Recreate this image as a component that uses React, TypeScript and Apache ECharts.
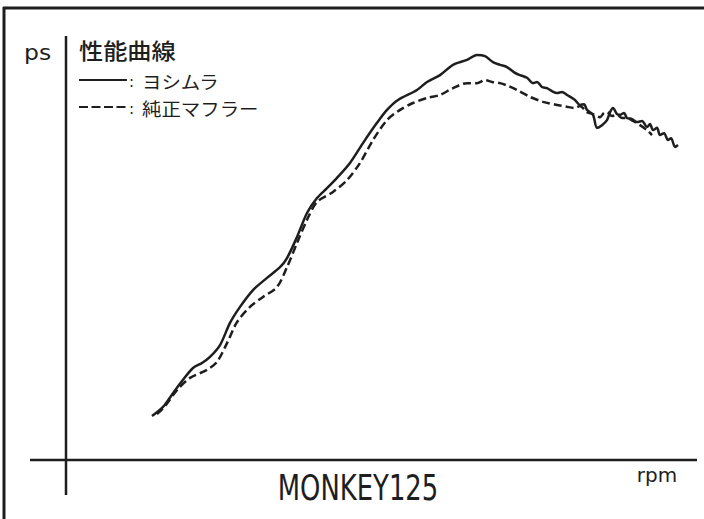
import React, { useEffect, useRef } from "react";
import * as echarts from "echarts";

// rpm (x) and ps (y) readings for each curve
const yoshimuraRpm = [2030, 2197, 2348, 2500, 2652, 2788, 2909, 3061, 3212, 3364, 3561, 3773, 3970, 4076, 4227, 4379, 4530, 4682, 4833, 5030, 5227, 5439, 5591, 5758, 6045, 6197, 6394, 6591, 6803, 6955, 7076, 7197, 7303, 7409, 7530, 7606, 7712, 7803, 7864, 7939, 8015, 8091, 8167, 8242, 8318, 8439, 8515, 8576, 8621, 8712, 8773, 8848, 8924, 8970, 9015, 9076, 9121, 9182, 9227, 9303, 9379, 9455, 9530, 9576, 9621, 9682, 9727, 9788, 9848, 9894, 9955, 10000];
const yoshimuraPs = [1.15, 1.39, 1.75, 2.10, 2.41, 2.54, 2.70, 3.01, 3.59, 4.01, 4.45, 4.77, 5.05, 5.29, 5.84, 6.47, 6.86, 7.12, 7.39, 7.78, 8.30, 8.83, 9.17, 9.43, 9.69, 9.90, 10.08, 10.35, 10.48, 10.61, 10.58, 10.42, 10.35, 10.29, 10.14, 10.08, 10.01, 9.87, 9.90, 9.77, 9.74, 9.66, 9.61, 9.64, 9.56, 9.43, 9.30, 9.32, 9.17, 9.04, 8.70, 8.77, 8.90, 9.11, 9.22, 9.06, 9.04, 9.09, 8.96, 8.93, 8.85, 8.88, 8.72, 8.80, 8.64, 8.70, 8.51, 8.56, 8.38, 8.43, 8.20, 8.25];

const stockRpm = [2106, 2227, 2409, 2606, 2864, 3015, 3167, 3318, 3515, 3712, 3924, 4076, 4227, 4379, 4530, 4773, 4985, 5182, 5379, 5591, 5788, 5985, 6197, 6394, 6591, 6803, 6955, 7076, 7182, 7303, 7424, 7561, 7758, 7955, 8167, 8318, 8439, 8515, 8621, 8712, 8818, 8879, 8924, 9000, 9076, 9152, 9227, 9318, 9424, 9530, 9606];
const stockPs = [1.20, 1.41, 1.83, 2.15, 2.36, 2.57, 3.06, 3.61, 4.01, 4.27, 4.53, 5.05, 5.68, 6.29, 6.76, 7.02, 7.33, 7.78, 8.38, 8.90, 9.17, 9.35, 9.48, 9.56, 9.74, 9.87, 9.87, 9.95, 9.90, 9.87, 9.80, 9.69, 9.51, 9.38, 9.30, 9.25, 9.22, 9.27, 9.11, 9.06, 8.98, 9.09, 9.11, 9.01, 9.04, 8.96, 8.96, 8.88, 8.77, 8.64, 8.51];

const titleText = "性能曲線";
const legendNames = ["ヨシムラ", "純正マフラー"];
const yUnit = "ps";
const xUnit = "rpm";
const modelName = "MONKEY125";

const zip = (xs: number[], ys: number[]) => xs.map((x, i) => [x, ys[i]]);

export default function App() {
  const ref = useRef<HTMLDivElement>(null);
  useEffect(() => {
    if (!ref.current) return;
    const chart = echarts.init(ref.current, null, { renderer: "svg" });
    const jp = "'Noto Sans CJK JP', 'Noto Sans', sans-serif";
    const latin = "'DejaVu Sans', 'Liberation Sans', sans-serif";
    const ink = "#1e1e1e";
    chart.setOption({
      animation: false,
      backgroundColor: "#ffffff",
      grid: { left: 18, right: 26, top: 40, bottom: 59 },
      xAxis: { type: "value", min: 0, max: 10000, show: false },
      yAxis: { type: "value", min: 0, max: 11, show: false },
      series: [
        {
          name: legendNames[0],
          type: "line",
          data: zip(yoshimuraRpm, yoshimuraPs),
          showSymbol: false,
          smooth: 0.3,
          lineStyle: { color: ink, width: 2.5 },
        },
        {
          name: legendNames[1],
          type: "line",
          data: zip(stockRpm, stockPs),
          showSymbol: false,
          smooth: 0.3,
          lineStyle: { color: ink, width: 2.5, type: [8, 4] },
        },
      ],
      graphic: [
        // frame
        { type: "line", shape: { x1: 3, y1: 8, x2: 704, y2: 8 }, style: { stroke: ink, lineWidth: 3 } },
        { type: "line", shape: { x1: 4, y1: 7, x2: 4, y2: 519 }, style: { stroke: ink, lineWidth: 3 } },
        // axes
        { type: "line", shape: { x1: 30, y1: 460, x2: 697, y2: 460 }, style: { stroke: ink, lineWidth: 2.5 } },
        { type: "line", shape: { x1: 66, y1: 36, x2: 66, y2: 495 }, style: { stroke: ink, lineWidth: 2.5 } },
        // labels
        { type: "text", x: 24, y: 52, scaleX: 1.12, style: { text: yUnit, font: `21px ${latin}`, fill: ink, textVerticalAlign: "middle" } },
        { type: "text", x: 79, y: 49, scaleX: 1.1, style: { text: titleText, font: `500 22px ${jp}`, fill: ink, textVerticalAlign: "middle" } },
        // legend
        { type: "line", shape: { x1: 79, y1: 80, x2: 127, y2: 80 }, style: { stroke: ink, lineWidth: 2.2 } },
        { type: "text", x: 129, y: 82, style: { text: ":", font: `15px ${latin}`, fill: ink, textVerticalAlign: "middle" } },
        { type: "text", x: 142, y: 81, scaleX: 1.08, style: { text: legendNames[0], font: `18px ${jp}`, fill: ink, textVerticalAlign: "middle" } },
        { type: "line", shape: { x1: 79, y1: 107, x2: 127, y2: 107 }, style: { stroke: ink, lineWidth: 2.2, lineDash: [9, 3.5] } },
        { type: "text", x: 129, y: 109, style: { text: ":", font: `15px ${latin}`, fill: ink, textVerticalAlign: "middle" } },
        { type: "text", x: 142, y: 108, scaleX: 1.08, style: { text: legendNames[1], font: `18px ${jp}`, fill: ink, textVerticalAlign: "middle" } },
        // bottom texts
        { type: "text", x: 358, y: 487, scaleX: 0.74, style: { text: modelName, font: `35px ${latin}`, fill: ink, textAlign: "center", textVerticalAlign: "middle" } },
        { type: "text", x: 657, y: 476, scaleX: 1.05, style: { text: xUnit, font: `19px ${latin}`, fill: ink, textAlign: "center", textVerticalAlign: "middle" } },
      ],
    });
    return () => chart.dispose();
  }, []);
  return <div ref={ref} style={{ position: "fixed", left: 0, top: 0, width: 704, height: 519 }} />;
}
